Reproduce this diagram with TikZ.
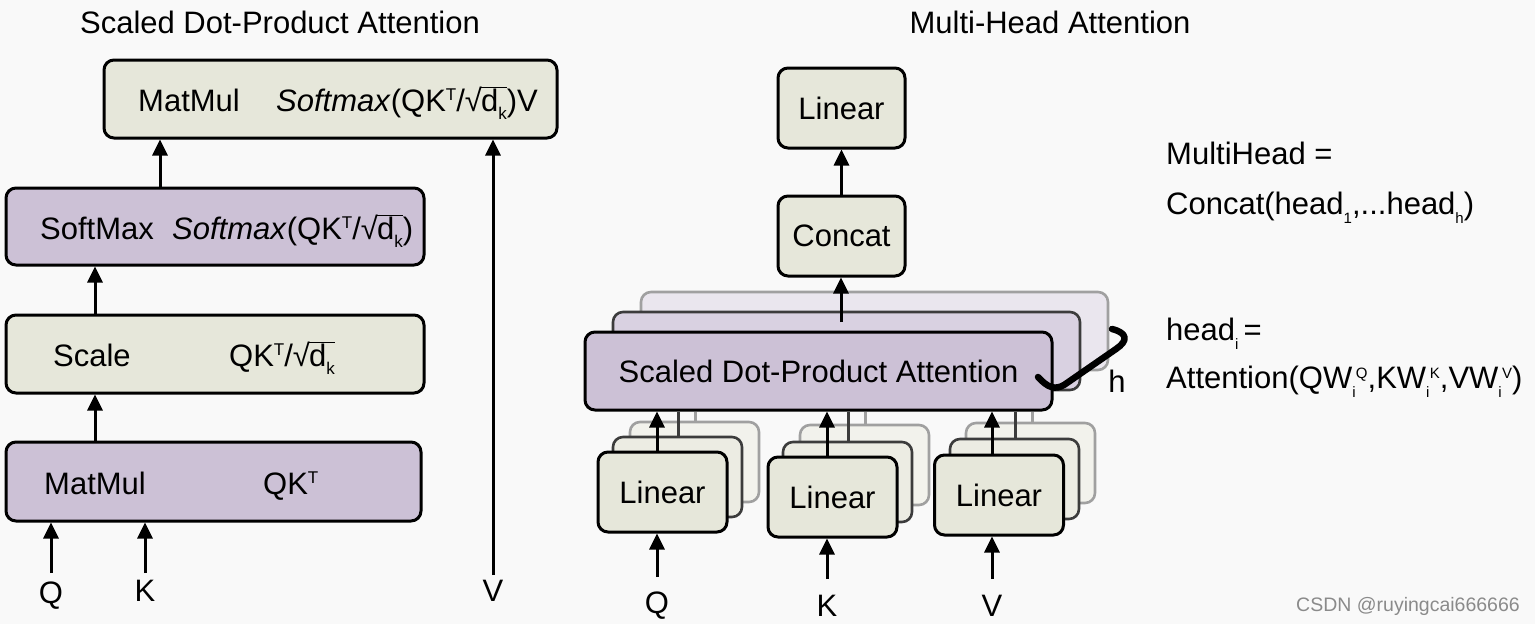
\documentclass[tikz,border=0pt]{standalone}
\usepackage{fontspec}
\setmainfont{Liberation Sans}
\usetikzlibrary{arrows.meta}
\definecolor{bg}{HTML}{F9F9F9}
\definecolor{grn}{HTML}{E6E7DA}
\definecolor{prp}{HTML}{CCC1D6}
\definecolor{grnM}{HTML}{ECECE3}
\definecolor{grnB}{HTML}{F2F2EC}
\definecolor{prpM}{HTML}{D9D1E1}
\definecolor{prpB}{HTML}{EAE6EE}
\definecolor{edgeM}{HTML}{3C3C3C}
\definecolor{edgeB}{HTML}{A0A0A0}
\definecolor{wm}{HTML}{8A8A8A}
\newcommand\mainsz{\fontsize{31}{36}\selectfont}
\newcommand\sps[1]{\raisebox{0.33em}{\fontsize{17}{17}\selectfont #1}}
\newcommand\sbs[1]{\raisebox{-0.26em}{\fontsize{17}{17}\selectfont #1}}
\newcommand\rsb[1]{\raisebox{-0.3em}{\fontsize{15}{15}\selectfont #1}}
\newcommand\rsup[1]{\raisebox{0.3em}{\fontsize{15}{15}\selectfont #1}}
\newcommand\subsup[2]{\rlap{\rsb{#1}}\kern0.12em\rsup{#2}}
\newcommand\rdk{√\kern-0.03em\setbox0=\hbox{d\sbs{k}}\rlap{\rule[0.74em]{\wd0}{0.05em}}\box0}
\tikzset{
  gbox/.style={draw=black, line width=3pt, rounded corners=10pt, fill=grn, inner sep=0pt, font=\mainsz},
  pbox/.style={gbox, fill=prp},
  gboxM/.style={gbox, fill=grnM, draw=edgeM, line width=2.6pt},
  gboxB/.style={gbox, fill=grnB, draw=edgeB, line width=2.6pt},
  pboxM/.style={gbox, fill=prpM, draw=edgeM, line width=2.6pt},
  pboxB/.style={gbox, fill=prpB, draw=edgeB, line width=2.6pt},
  lbl/.style={inner sep=0pt, font=\mainsz},
  arr/.style={line width=3pt, -{Triangle[length=16pt,width=15pt]}},
  ghostM/.style={line width=3pt, draw=edgeM},
  ghostB/.style={line width=3pt, draw=edgeB},
}
\begin{document}
\begin{tikzpicture}[x=1pt,y=-1pt]
\useasboundingbox (0,0) rectangle (1535,624);
\fill[bg] (0,0) rectangle (1535,624);

% ---------------- titles
\node[lbl, anchor=base] (title1) at (280,33) {Scaled Dot-Product Attention};
\node[lbl, anchor=base] (title2) at (1050,33) {Multi-Head Attention};

% ---------------- left: scaled dot-product attention
\node[gbox, minimum width=453pt, minimum height=78pt] (t1) at (330.5,99) {};
\node[lbl, anchor=base west] (t1a) at (138,111) {MatMul};
\node[lbl, anchor=base west] (t1b) at (276,111) {\textit{Softmax}(QK\sps{T}/\rdk)V};

\node[pbox, minimum width=418pt, minimum height=77pt] (sm) at (215,226.5) {};
\node[lbl, anchor=base west] (sma) at (40,239) {SoftMax};
\node[lbl, anchor=base west] (smb) at (172,239) {\textit{Softmax}(QK\sps{T}/\rdk)};

\node[gbox, minimum width=418pt, minimum height=78pt] (sc) at (215,354) {};
\node[lbl, anchor=base west] (sca) at (53,366) {Scale};
\node[lbl, anchor=base west] (scb) at (229,366) {QK\sps{T}/\rdk};

\node[pbox, minimum width=415pt, minimum height=79pt] (mm) at (213.5,481.5) {};
\node[lbl, anchor=base west] (mma) at (44,494) {MatMul};
\node[lbl, anchor=base west] (mmb) at (263,494) {QK\sps{T}};

\coordinate (xa) at (160,0);
\coordinate (xb) at (95,0);
\draw[arr] (xa |- sm.north) -- (xa |- t1.south);
\draw[arr] (xb |- sc.north) -- (xb |- sm.south);
\draw[arr] (xb |- mm.north) -- (xb |- sc.south);

\coordinate (q0) at (51,573);
\coordinate (k0) at (145,573);
\coordinate (v0) at (493,575);
\draw[arr] (q0) -- (q0 |- mm.south);
\draw[arr] (k0) -- (k0 |- mm.south);
\draw[arr] (v0) -- (v0 |- t1.south);
\node[lbl, anchor=base] (qa) at (51,603) {Q};
\node[lbl, anchor=base] (ka) at (145,601) {K};
\node[lbl, anchor=base] (va) at (493,601) {V};

% ---------------- right: multi-head attention
\node[gbox, minimum width=127pt, minimum height=80pt] (lin) at (841.5,108) {Linear};
\node[gbox, minimum width=127pt, minimum height=80pt] (cc) at (841.5,236) {Concat};
\draw[arr] (cc.north) -- (lin.south);

\node[pboxB, minimum width=467pt, minimum height=78pt] (sd3) at (874.5,331) {};
\node[pboxM, minimum width=467pt, minimum height=78pt] (sd2) at (846.5,351) {};
\coordinate (sdtop) at (841,322);
\draw[arr] (sdtop) -- (sdtop |- cc.south);

% ghost lines from stacked linear layers (behind front attention box)
\coordinate (xq2) at (678,0); \coordinate (xq3) at (695,0);
\coordinate (xk2) at (848,0); \coordinate (xk3) at (865,0);
\coordinate (xv2) at (1015,0); \coordinate (xv3) at (1032,0);

\node[pbox, minimum width=467pt, minimum height=78pt] (sd1) at (818.5,371) {Scaled Dot-Product Attention};

\draw[line width=6.5pt, line cap=round, line join=round]
  (1038,377) .. controls (1048,388) and (1055,390) .. (1064,385) -- (1116,349)
  .. controls (1128,341) and (1128,333) .. (1112,329);
\node[lbl, anchor=base] (hl) at (1117,392) {h};

% Q group
\node[gboxB, minimum width=129pt, minimum height=80pt] (lq3) at (694.5,462) {};
\draw[ghostB] (xq3 |- lq3.north) -- (xq3 |- sd1.south);
\node[gboxM, minimum width=129pt, minimum height=80pt] (lq2) at (677.5,477) {};
\draw[ghostM] (xq2 |- lq2.north) -- (xq2 |- sd1.south);
\node[gbox, minimum width=129pt, minimum height=80pt] (lq1) at (662.5,492) {Linear};
% K group
\node[gboxB, minimum width=129pt, minimum height=80pt] (lk3) at (864.5,465) {};
\draw[ghostB] (xk3 |- lk3.north) -- (xk3 |- sd1.south);
\node[gboxM, minimum width=129pt, minimum height=80pt] (lk2) at (847.5,482) {};
\draw[ghostM] (xk2 |- lk2.north) -- (xk2 |- sd1.south);
\node[gbox, minimum width=129pt, minimum height=80pt] (lk1) at (832.5,497) {Linear};
% V group
\node[gboxB, minimum width=129pt, minimum height=80pt] (lv3) at (1030.5,463) {};
\draw[ghostB] (xv3 |- lv3.north) -- (xv3 |- sd1.south);
\node[gboxM, minimum width=129pt, minimum height=80pt] (lv2) at (1014.5,479) {};
\draw[ghostM] (xv2 |- lv2.north) -- (xv2 |- sd1.south);
\node[gbox, minimum width=129pt, minimum height=80pt] (lv1) at (999,495) {Linear};

\coordinate (xq1) at (657,0); \coordinate (xk1) at (827,0); \coordinate (xv1) at (992,0);
\draw[arr] (xq1 |- lq1.north) -- (xq1 |- sd1.south);
\draw[arr] (xk1 |- lk1.north) -- (xk1 |- sd1.south);
\draw[arr] (xv1 |- lv1.north) -- (xv1 |- sd1.south);

\coordinate (qi) at (657,577);
\coordinate (ki) at (827,579);
\coordinate (vi) at (992,579);
\draw[arr] (qi) -- (qi |- lq1.south);
\draw[arr] (ki) -- (ki |- lk1.south);
\draw[arr] (vi) -- (vi |- lv1.south);
\node[lbl, anchor=base] (qb) at (657,613) {Q};
\node[lbl, anchor=base] (kb) at (827,616) {K};
\node[lbl, anchor=base] (vb) at (992,616) {V};

% equations
\node[lbl, anchor=base west] (e1) at (1166,164) {MultiHead =};
\node[lbl, anchor=base west] (e2) at (1166,214) {Concat(head\rsb{1},...head\rsb{h})};
\node[lbl, anchor=base west] (e3) at (1166,340) {head\rsb{i}\,=};
\node[lbl, anchor=base west] (e4) at (1166,388) {Attention(QW\subsup{i}{Q},KW\subsup{i}{K},VW\subsup{i}{V})};

% watermark
\node[inner sep=0pt, anchor=base east, font=\fontsize{19.5}{20}\selectfont, text=wm] (wmk) at (1520,611) {CSDN @ruyingcai666666};
\end{tikzpicture}
\end{document}
